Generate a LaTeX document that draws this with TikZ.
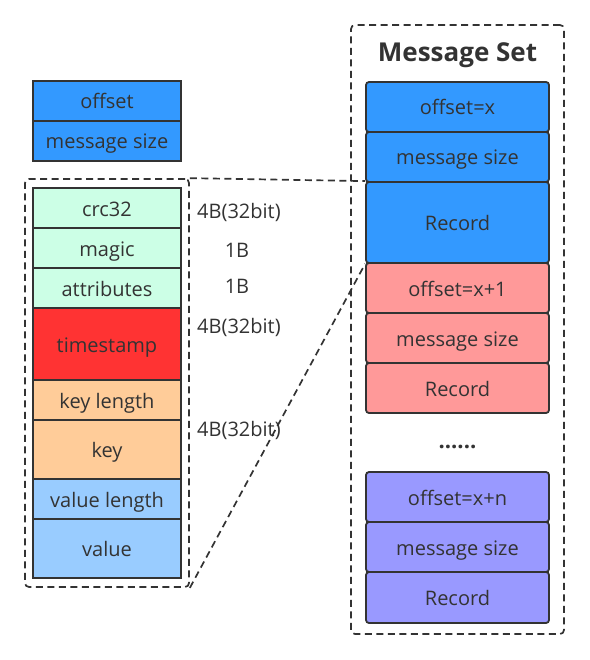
\documentclass[tikz,border=0pt]{standalone}
\usepackage{fontspec}
\setmainfont{Open Sans}
\definecolor{ink}{HTML}{333333}
\definecolor{dblue}{HTML}{3399FF}
\definecolor{mint}{HTML}{CCFFE6}
\definecolor{tred}{HTML}{FF3333}
\definecolor{peach}{HTML}{FFCC99}
\definecolor{sky}{HTML}{99CCFF}
\definecolor{rose}{HTML}{FF9999}
\definecolor{lilac}{HTML}{9999FF}
\tikzset{
  field/.style={draw=ink, line width=1.8pt, text=ink, inner sep=0pt, text height=17pt, text depth=1pt, minimum width=148pt, font=\fontsize{20}{22}\selectfont},
  slot/.style={field, rounded corners=3pt, minimum width=183pt},
  group/.style={draw=ink, line width=1.7pt, dash pattern=on 7pt off 4.5pt, rounded corners=4pt},
  size/.style={text=ink, font=\fontsize{20}{22}\selectfont, inner sep=0pt}
}
\begin{document}
\begin{tikzpicture}[x=1pt,y=-1pt]
\useasboundingbox (0,0) rectangle (589,660);
% header
\node [field, fill=dblue, minimum height=40pt] (off) at (107,101) {offset};
\node [field, fill=dblue, minimum height=40pt] (msize) at (107,141) {message size};
% record layout
\node [group, minimum width=164pt, minimum height=408pt] (record) at (107,383) {};
\node [field, fill=mint, minimum height=40pt] (crc) at (107,208) {crc32};
\node [field, fill=mint, minimum height=40pt] (magic) at (107,248) {magic};
\node [field, fill=mint, minimum height=40pt] (attr) at (107,288) {attributes};
\node [field, fill=tred, minimum height=72pt] (ts) at (107,344) {timestamp};
\node [field, fill=peach, minimum height=40pt] (keylen) at (107,400) {key length};
\node [field, fill=peach, minimum height=59pt] (key) at (107,449.5) {key};
\node [field, fill=sky, minimum height=40pt] (vallen) at (107,499) {value length};
\node [field, fill=sky, minimum height=59pt] (val) at (107,548.5) {value};
\node [size, anchor=west] (s1) at (197,212) {4B(32bit)};
\node [size] (s2) at (237,250) {1B};
\node [size] (s3) at (237,286) {1B};
\node [size, anchor=west] (s4) at (197,327) {4B(32bit)};
\node [size, anchor=west] (s5) at (197,430) {4B(32bit)};
% message set
\node [group, minimum width=213pt, minimum height=609pt] (mset) at (457.5,329.5) {};
\node [text=ink, font=\fontsize{26}{30}\selectfont\bfseries] (title) at (457.5,55) {Message Set};
\node [slot, fill=dblue, minimum height=50pt] (off1) at (457.5,107) {offset=x};
\node [slot, fill=dblue, minimum height=50pt] (size1) at (457.5,157) {message size};
\node [slot, fill=dblue, minimum height=81pt] (rec1) at (457.5,222.5) {Record};
\node [slot, fill=rose, minimum height=50pt] (off2) at (457.5,288) {offset=x+1};
\node [slot, fill=rose, minimum height=50pt] (size2) at (457.5,338) {message size};
\node [slot, fill=rose, minimum height=50pt] (rec2) at (457.5,388) {Record};
\node [text=ink, font=\fontsize{22}{24}\selectfont\bfseries] (dots) at (457.5,447) {......};
\node [slot, fill=lilac, minimum height=50pt] (off3) at (457.5,497) {offset=x+n};
\node [slot, fill=lilac, minimum height=50pt] (size3) at (457.5,547) {message size};
\node [slot, fill=lilac, minimum height=51pt] (rec3) at (457.5,597.5) {Record};
% zoom lines
\draw [group] (record.north east) -- (rec1.north west);
\draw [group] (record.south east) -- (rec1.south west);
\end{tikzpicture}
\end{document}
